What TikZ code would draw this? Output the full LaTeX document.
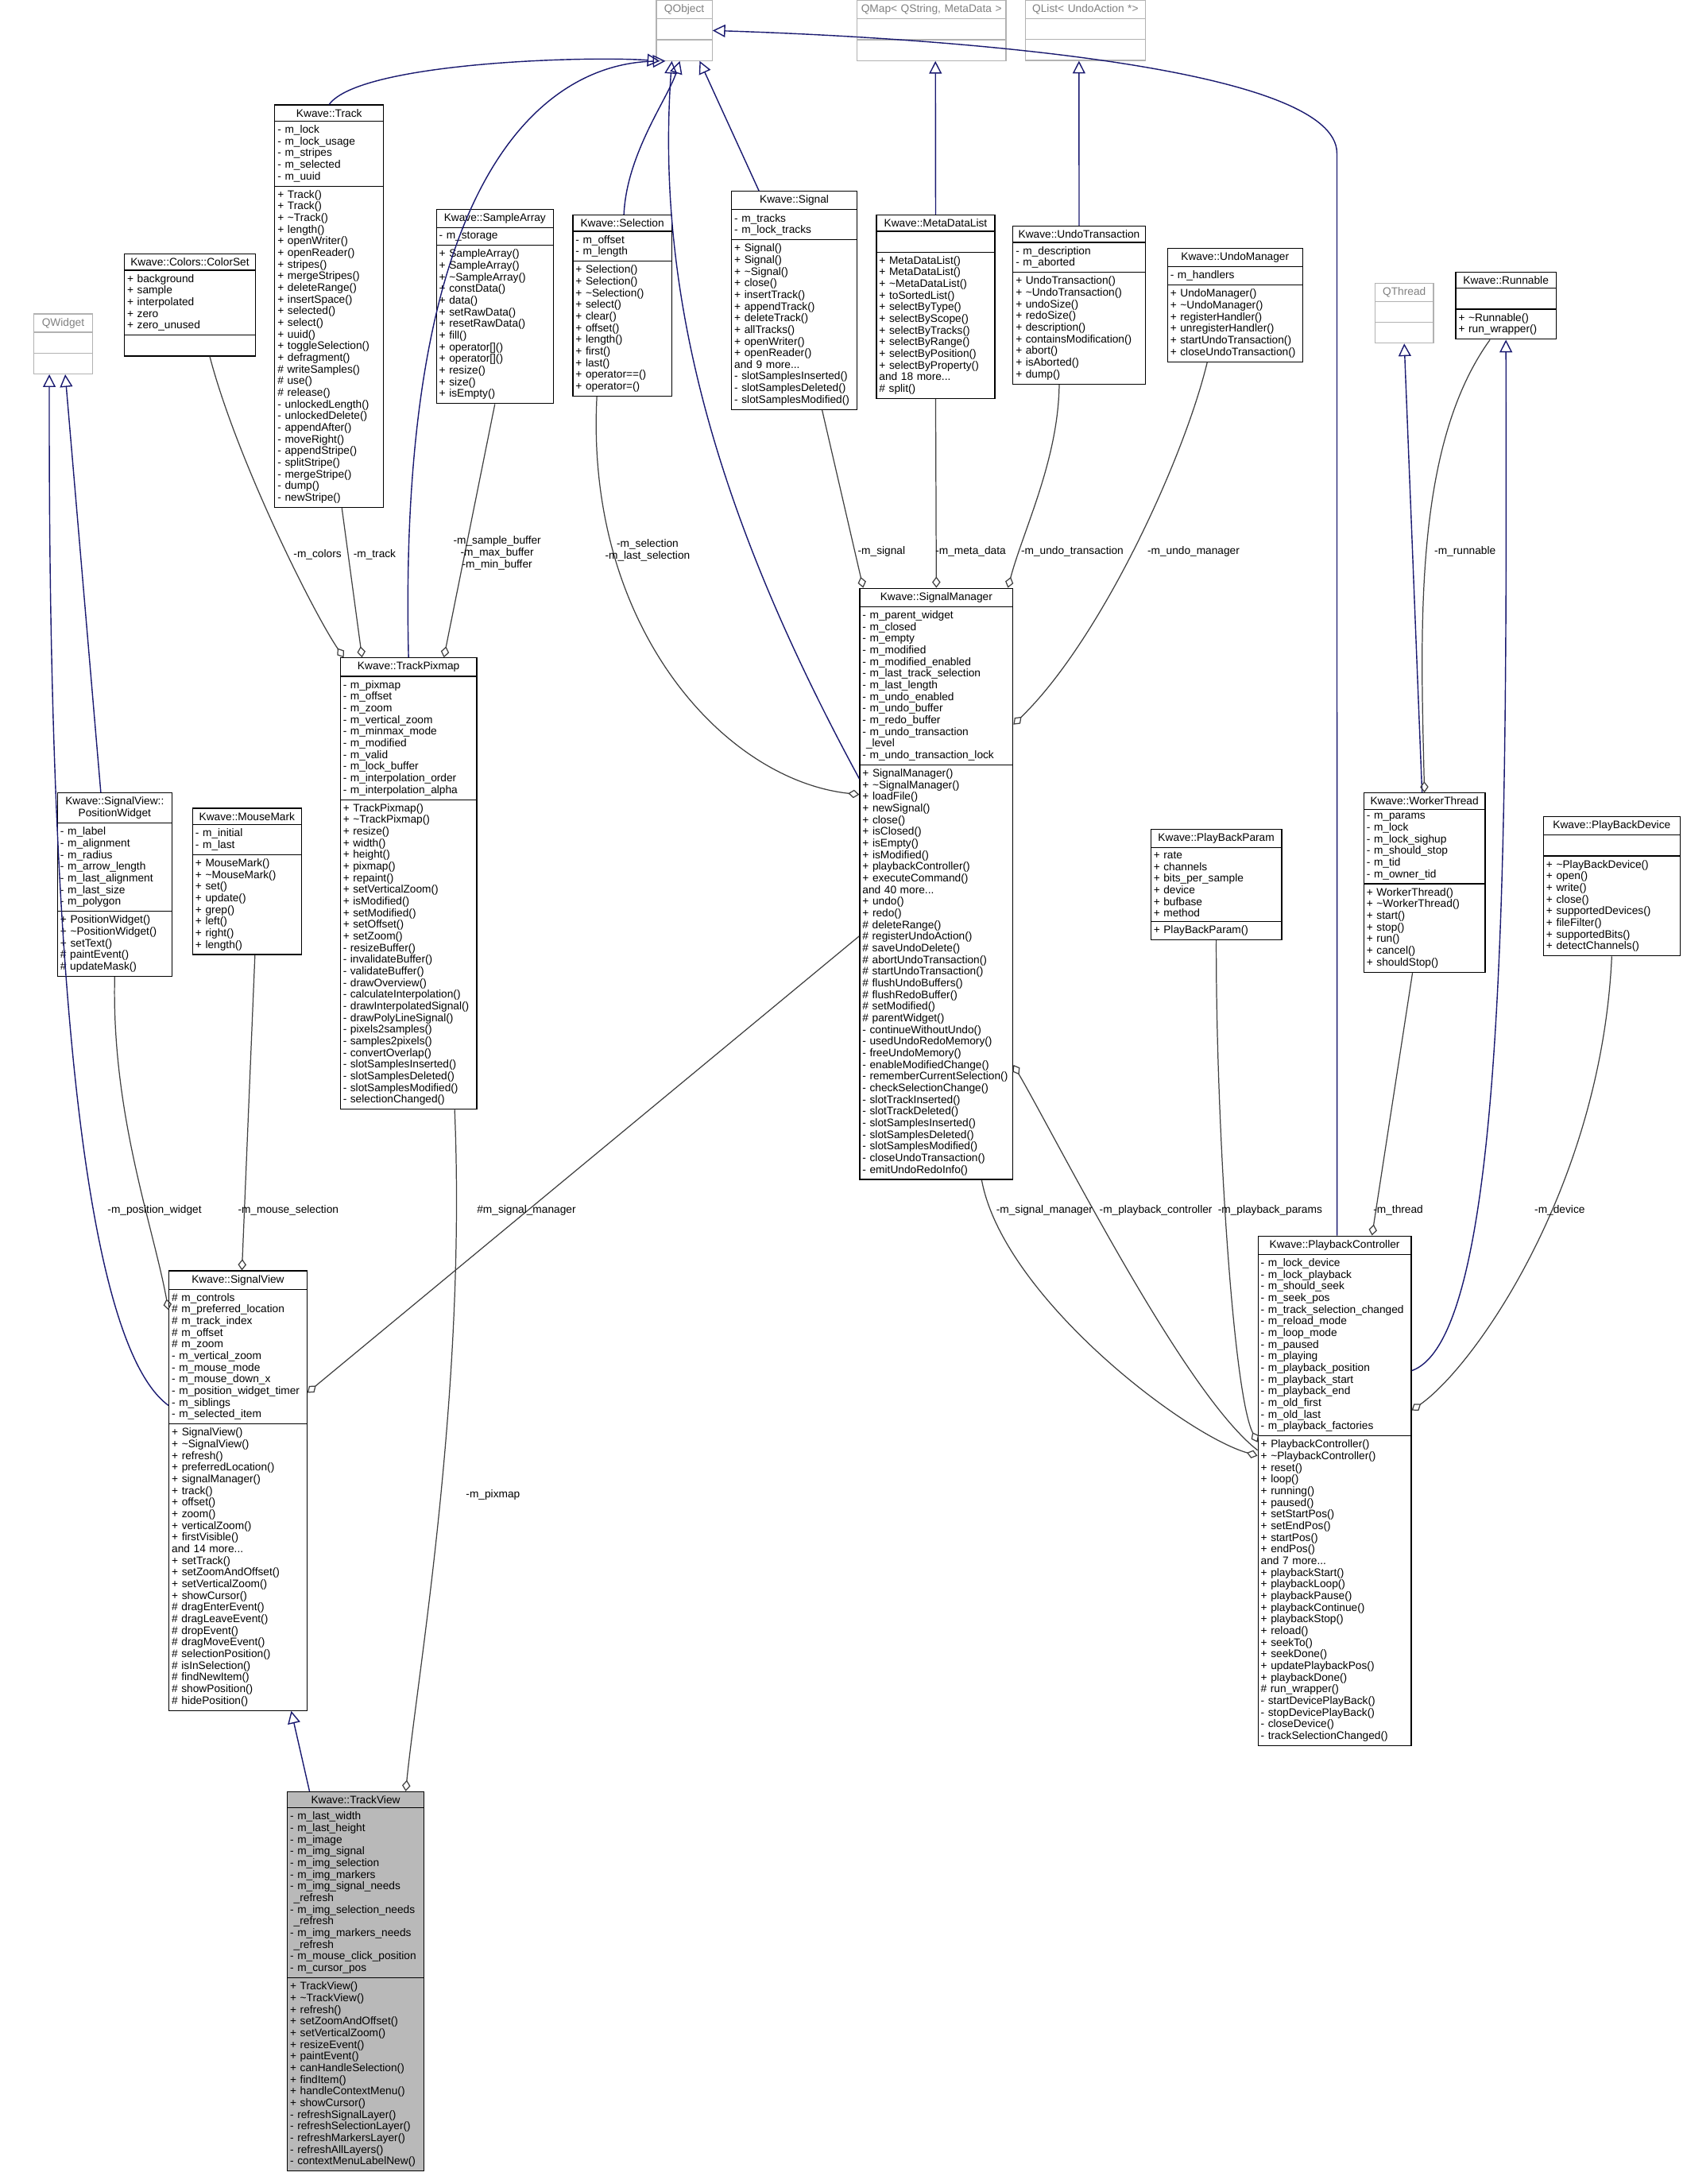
\documentclass[tikz,border=0pt]{standalone}
\usepackage{fontspec}
\setmainfont{Liberation Sans}
\usetikzlibrary{shapes.multipart,arrows.meta}
\definecolor{navy}{HTML}{191970}
\definecolor{edgegray}{HTML}{404040}
\newcommand\clsfont{\fontsize{3.9}{4.17}\selectfont}
\tikzset{
  cls/.style={draw=black, rectangle split, rectangle split parts=3, anchor=north west,
    inner xsep=1pt, inner ysep=1.3pt, font=\clsfont, line width=0.35pt},
  extcls/.style={cls, draw=gray!60, text=gray},
  inh/.style={draw=navy, line width=0.4pt, -{Triangle[open,length=4.5pt,width=4.5pt]}},
  comp/.style={draw=edgegray, line width=0.35pt, -{Diamond[open,length=4pt,width=3pt]}},
  lbl/.style={font=\clsfont, align=center, inner sep=0.5pt}
}
% class box: name, x, y, width, title, attributes, methods
\newcommand\cls[8][cls]{%
  \pgfmathsetmacro\clsw{#5*0.01752-0.07}%
  \node[#1, text width=\clsw cm] (#2) at (#3,#4)
    {\centering #6\par\nodepart{two}\raggedright #7\nodepart{three}\raggedright #8};}
\newcommand\nil{\rule{0pt}{4.5pt}}
\begin{document}
\catcode`\_=12
\begin{tikzpicture}[x=0.01752cm,y=-0.01752cm]
\useasboundingbox (0,0) rectangle (1208,1568);
\fill[white] (0,0) rectangle (1208,1568);

% external classes
\cls[extcls]{qobject}{471}{0}{40}{QObject}{\nil}{\nil}
\cls[extcls]{qmap}{615}{0}{107}{QMap\textless{} QString, MetaData \textgreater}{\nil}{\nil}
\cls[extcls]{qlist}{736}{0}{86}{QList\textless{} UndoAction *\textgreater}{\nil}{\nil}
\cls[extcls]{qwidget}{24}{225}{42}{QWidget}{\nil}{\nil}
\cls[extcls]{qthread}{987}{203}{42}{QThread}{\nil}{\nil}

% upper row
\cls{track}{197}{75}{78}{Kwave::Track}
 {- m_lock\\- m_lock_usage\\- m_stripes\\- m_selected\\- m_uuid}
 {+ Track()\\+ Track()\\+ \textasciitilde Track()\\+ length()\\+ openWriter()\\+ openReader()\\+ stripes()\\+ mergeStripes()\\+ deleteRange()\\+ insertSpace()\\+ selected()\\+ select()\\+ uuid()\\+ toggleSelection()\\+ defragment()\\\# writeSamples()\\\# use()\\\# release()\\- unlockedLength()\\- unlockedDelete()\\- appendAfter()\\- moveRight()\\- appendStripe()\\- splitStripe()\\- mergeStripe()\\- dump()\\- newStripe()}
\cls{colorset}{89}{182}{94}{Kwave::Colors::ColorSet}
 {+ background\\+ sample\\+ interpolated\\+ zero\\+ zero_unused}{\nil}
\cls{samplearray}{313}{150}{84}{Kwave::SampleArray}
 {- m_storage}
 {+ SampleArray()\\+ SampleArray()\\+ \textasciitilde SampleArray()\\+ constData()\\+ data()\\+ setRawData()\\+ resetRawData()\\+ fill()\\+ operator[]()\\+ operator[]()\\+ resize()\\+ size()\\+ isEmpty()}
\cls{selection}{411}{154}{71}{Kwave::Selection}
 {- m_offset\\- m_length}
 {+ Selection()\\+ Selection()\\+ \textasciitilde Selection()\\+ select()\\+ clear()\\+ offset()\\+ length()\\+ first()\\+ last()\\+ operator==()\\+ operator=()}
\cls{signal}{525}{137}{90}{Kwave::Signal}
 {- m_tracks\\- m_lock_tracks}
 {+ Signal()\\+ Signal()\\+ \textasciitilde Signal()\\+ close()\\+ insertTrack()\\+ appendTrack()\\+ deleteTrack()\\+ allTracks()\\+ openWriter()\\+ openReader()\\and 9 more...\\- slotSamplesInserted()\\- slotSamplesDeleted()\\- slotSamplesModified()}
\cls{metadatalist}{629}{154}{85}{Kwave::MetaDataList}
 {\nil}
 {+ MetaDataList()\\+ MetaDataList()\\+ \textasciitilde MetaDataList()\\+ toSortedList()\\+ selectByType()\\+ selectByScope()\\+ selectByTracks()\\+ selectByRange()\\+ selectByPosition()\\+ selectByProperty()\\and 18 more...\\\# split()}
\cls{undotransaction}{727}{162}{95}{Kwave::UndoTransaction}
 {- m_description\\- m_aborted}
 {+ UndoTransaction()\\+ \textasciitilde UndoTransaction()\\+ undoSize()\\+ redoSize()\\+ description()\\+ containsModification()\\+ abort()\\+ isAborted()\\+ dump()}
\cls{undomanager}{838}{178}{97}{Kwave::UndoManager}
 {- m_handlers}
 {+ UndoManager()\\+ \textasciitilde UndoManager()\\+ registerHandler()\\+ unregisterHandler()\\+ startUndoTransaction()\\+ closeUndoTransaction()}
\cls{runnable}{1045}{195}{72}{Kwave::Runnable}
 {\nil}
 {+ \textasciitilde Runnable()\\+ run_wrapper()}

% middle row
\cls{pixmap}{244}{472}{98}{Kwave::TrackPixmap}
 {- m_pixmap\\- m_offset\\- m_zoom\\- m_vertical_zoom\\- m_minmax_mode\\- m_modified\\- m_valid\\- m_lock_buffer\\- m_interpolation_order\\- m_interpolation_alpha}
 {+ TrackPixmap()\\+ \textasciitilde TrackPixmap()\\+ resize()\\+ width()\\+ height()\\+ pixmap()\\+ repaint()\\+ setVerticalZoom()\\+ isModified()\\+ setModified()\\+ setOffset()\\+ setZoom()\\- resizeBuffer()\\- invalidateBuffer()\\- validateBuffer()\\- drawOverview()\\- calculateInterpolation()\\- drawInterpolatedSignal()\\- drawPolyLineSignal()\\- pixels2samples()\\- samples2pixels()\\- convertOverlap()\\- slotSamplesInserted()\\- slotSamplesDeleted()\\- slotSamplesModified()\\- selectionChanged()}
\cls{signalmanager}{617}{422}{110}{Kwave::SignalManager}
 {- m_parent_widget\\- m_closed\\- m_empty\\- m_modified\\- m_modified_enabled\\- m_last_track_selection\\- m_last_length\\- m_undo_enabled\\- m_undo_buffer\\- m_redo_buffer\\- m_undo_transaction\\\ _level\\- m_undo_transaction_lock}
 {+ SignalManager()\\+ \textasciitilde SignalManager()\\+ loadFile()\\+ newSignal()\\+ close()\\+ isClosed()\\+ isEmpty()\\+ isModified()\\+ playbackController()\\+ executeCommand()\\and 40 more...\\+ undo()\\+ redo()\\\# deleteRange()\\\# registerUndoAction()\\\# saveUndoDelete()\\\# abortUndoTransaction()\\\# startUndoTransaction()\\\# flushUndoBuffers()\\\# flushRedoBuffer()\\\# setModified()\\\# parentWidget()\\- continueWithoutUndo()\\- usedUndoRedoMemory()\\- freeUndoMemory()\\- enableModifiedChange()\\- rememberCurrentSelection()\\- checkSelectionChange()\\- slotTrackInserted()\\- slotTrackDeleted()\\- slotSamplesInserted()\\- slotSamplesDeleted()\\- slotSamplesModified()\\- closeUndoTransaction()\\- emitUndoRedoInfo()}
\cls{poswidget}{41}{569}{82}{Kwave::SignalView::\\PositionWidget}
 {- m_label\\- m_alignment\\- m_radius\\- m_arrow_length\\- m_last_alignment\\- m_last_size\\- m_polygon}
 {+ PositionWidget()\\+ \textasciitilde PositionWidget()\\+ setText()\\\# paintEvent()\\\# updateMask()}
\cls{mousemark}{138}{580}{78}{Kwave::MouseMark}
 {- m_initial\\- m_last}
 {+ MouseMark()\\+ \textasciitilde MouseMark()\\+ set()\\+ update()\\+ grep()\\+ left()\\+ right()\\+ length()}
\cls{pbparam}{826}{595}{94}{Kwave::PlayBackParam}
 {+ rate\\+ channels\\+ bits_per_sample\\+ device\\+ bufbase\\+ method}
 {+ PlayBackParam()}
\cls{workerthread}{979}{569}{87}{Kwave::WorkerThread}
 {- m_params\\- m_lock\\- m_lock_sighup\\- m_should_stop\\- m_tid\\- m_owner_tid}
 {+ WorkerThread()\\+ \textasciitilde WorkerThread()\\+ start()\\+ stop()\\+ run()\\+ cancel()\\+ shouldStop()}
\cls{pbdevice}{1108}{586}{98}{Kwave::PlayBackDevice}
 {\nil}
 {+ \textasciitilde PlayBackDevice()\\+ open()\\+ write()\\+ close()\\+ supportedDevices()\\+ fileFilter()\\+ supportedBits()\\+ detectChannels()}

% lower row
\cls{signalview}{121}{912}{99}{Kwave::SignalView}
 {\# m_controls\\\# m_preferred_location\\\# m_track_index\\\# m_offset\\\# m_zoom\\- m_vertical_zoom\\- m_mouse_mode\\- m_mouse_down_x\\- m_position_widget_timer\\- m_siblings\\- m_selected_item}
 {+ SignalView()\\+ \textasciitilde SignalView()\\+ refresh()\\+ preferredLocation()\\+ signalManager()\\+ track()\\+ offset()\\+ zoom()\\+ verticalZoom()\\+ firstVisible()\\and 14 more...\\+ setTrack()\\+ setZoomAndOffset()\\+ setVerticalZoom()\\+ showCursor()\\\# dragEnterEvent()\\\# dragLeaveEvent()\\\# dropEvent()\\\# dragMoveEvent()\\\# selectionPosition()\\\# isInSelection()\\\# findNewItem()\\\# showPosition()\\\# hidePosition()}
\cls{controller}{903}{887}{110}{Kwave::PlaybackController}
 {- m_lock_device\\- m_lock_playback\\- m_should_seek\\- m_seek_pos\\- m_track_selection_changed\\- m_reload_mode\\- m_loop_mode\\- m_paused\\- m_playing\\- m_playback_position\\- m_playback_start\\- m_playback_end\\- m_old_first\\- m_old_last\\- m_playback_factories}
 {+ PlaybackController()\\+ \textasciitilde PlaybackController()\\+ reset()\\+ loop()\\+ running()\\+ paused()\\+ setStartPos()\\+ setEndPos()\\+ startPos()\\+ endPos()\\and 7 more...\\+ playbackStart()\\+ playbackLoop()\\+ playbackPause()\\+ playbackContinue()\\+ playbackStop()\\+ reload()\\+ seekTo()\\+ seekDone()\\+ updatePlaybackPos()\\+ playbackDone()\\\# run_wrapper()\\- startDevicePlayBack()\\- stopDevicePlayBack()\\- closeDevice()\\- trackSelectionChanged()}
\cls[cls, fill=gray!55]{trackview}{206}{1286}{98}{Kwave::TrackView}
 {- m_last_width\\- m_last_height\\- m_image\\- m_img_signal\\- m_img_selection\\- m_img_markers\\- m_img_signal_needs\\\ _refresh\\- m_img_selection_needs\\\ _refresh\\- m_img_markers_needs\\\ _refresh\\- m_mouse_click_position\\- m_cursor_pos}
 {+ TrackView()\\+ \textasciitilde TrackView()\\+ refresh()\\+ setZoomAndOffset()\\+ setVerticalZoom()\\+ resizeEvent()\\+ paintEvent()\\+ canHandleSelection()\\+ findItem()\\+ handleContextMenu()\\+ showCursor()\\- refreshSignalLayer()\\- refreshSelectionLayer()\\- refreshMarkersLayer()\\- refreshAllLayers()\\- contextMenuLabelNew()}

% inheritance
\draw[inh] (track.north) .. controls (258,45) and (420,40) .. ([xshift=0.05cm]qobject.south west);
\draw[inh] (pixmap.north) .. controls (284,80) and (420,45) .. ([xshift=0.12cm]qobject.south west);
\draw[inh] ([xshift=0.02cm]selection.north) .. controls (450,110) and (480,70) .. ([xshift=0.3cm]qobject.south west);
\draw[inh] ([xshift=0.35cm]signal.north west) -- ([xshift=0.55cm]qobject.south west);
\draw[inh] ([yshift=-2.4cm]signalmanager.north west) .. controls (520,380) and (470,220) .. ([xshift=0.2cm]qobject.south west);
\draw[inh] ([xshift=1cm]controller.north west) -- (960,110) .. controls (960,50) and (700,28) .. (qobject.east);
\draw[inh] (metadatalist.north) -- ([xshift=0.05cm]qmap.south);
\draw[inh] (undotransaction.north) -- ([xshift=-0.08cm]qlist.south);
\draw[inh] ([xshift=-0.03cm]workerthread.north) -- ([xshift=0.0cm]qthread.south);
\draw[inh] ([yshift=-1.7cm]controller.north east) .. controls (1083,960) and (1082,600) .. (runnable.south);
\draw[inh] ([xshift=0.55cm]poswidget.north west) -- ([xshift=0.4cm]qwidget.south west);
\draw[inh] ([yshift=-1.7cm]signalview.north west) .. controls (40,950) and (35,500) .. ([xshift=0.2cm]qwidget.south west);
\draw[inh] ([xshift=-0.58cm]trackview.north) -- ([xshift=0.67cm]signalview.south);

% usage
\draw[comp] ([xshift=0.25cm]colorset.south) .. controls (170,330) and (225,440) .. ([xshift=0.05cm]pixmap.north west);
\draw[comp] ([xshift=0.16cm]track.south) -- ([xshift=0.28cm]pixmap.north west);
\draw[comp] (samplearray.south) -- ([xshift=-0.42cm]pixmap.north east);
\draw[comp] ([xshift=-0.32cm]selection.south) .. controls (420,450) and (520,560) .. ([yshift=-2.6cm]signalmanager.north west);
\draw[comp] ([xshift=0.35cm]signal.south) -- ([xshift=0.05cm]signalmanager.north west);
\draw[comp] (metadatalist.south) -- (signalmanager.north);
\draw[comp] ([xshift=-0.25cm]undotransaction.south) .. controls (760,330) and (735,380) .. ([xshift=-0.07cm]signalmanager.north east);
\draw[comp] ([xshift=-0.35cm]undomanager.south) .. controls (850,330) and (790,460) .. ([yshift=-1.72cm]signalmanager.north east);
\draw[comp] ([xshift=-0.2cm]runnable.south) .. controls (1015,320) and (1020,450) .. (workerthread.north);
\draw[comp] (poswidget.south) .. controls (80,800) and (110,880) .. ([yshift=-0.5cm]signalview.north west);
\draw[comp] ([xshift=0.1cm]mousemark.south) -- ([xshift=0.05cm]signalview.north);
\draw[comp] ([yshift=-4.38cm]signalmanager.north west) -- ([yshift=-1.54cm]signalview.north east);
\draw[comp] ([xshift=0.58cm]pixmap.south) .. controls (335,1000) and (300,1200) .. ([xshift=0.63cm]trackview.north);
\draw[comp] ([xshift=1.54cm]signalmanager.south west) .. controls (720,930) and (850,1030) .. ([yshift=-2.77cm]controller.north west);
\draw[comp] ([yshift=-2.7cm]controller.north west) .. controls (850,1000) and (760,820) .. ([yshift=-6.0cm]signalmanager.north east);
\draw[comp] (pbparam.south) .. controls (873,800) and (885,1000) .. ([yshift=-2.6cm]controller.north west);
\draw[comp] ([xshift=-0.15cm]workerthread.south) -- ([xshift=1.44cm]controller.north west);
\draw[comp] (pbdevice.south) .. controls (1150,850) and (1060,980) .. ([yshift=-2.2cm]controller.north east);

% labels
\node[lbl] (lcolors) at (228,398) {-m_colors};
\node[lbl] (ltrack) at (269,398) {-m_track};
\node[lbl] (lbuffer) at (357,397) {-m_sample_buffer\\-m_max_buffer\\-m_min_buffer};
\node[lbl] (lselection) at (465,395) {-m_selection\\-m_last_selection};
\node[lbl] (lsignal) at (633,396) {-m_signal};
\node[lbl] (lmeta) at (697,396) {-m_meta_data};
\node[lbl] (lundotr) at (770,396) {-m_undo_transaction};
\node[lbl] (lundoman) at (857,396) {-m_undo_manager};
\node[lbl] (lrunnable) at (1052,396) {-m_runnable};
\node[lbl] (lposwidget) at (111,869) {-m_position_widget};
\node[lbl] (lmouse) at (207,869) {-m_mouse_selection};
\node[lbl] (lsmview) at (378,869) {\#m_signal_manager};
\node[lbl] (lsmctrl) at (750,869) {-m_signal_manager};
\node[lbl] (lctrl) at (830,869) {-m_playback_controller};
\node[lbl] (lparams) at (912,869) {-m_playback_params};
\node[lbl] (lthread) at (1004,869) {-m_thread};
\node[lbl] (ldevice) at (1120,869) {-m_device};
\node[lbl] (lpixmap) at (354,1073) {-m_pixmap};
\end{tikzpicture}
\end{document}
